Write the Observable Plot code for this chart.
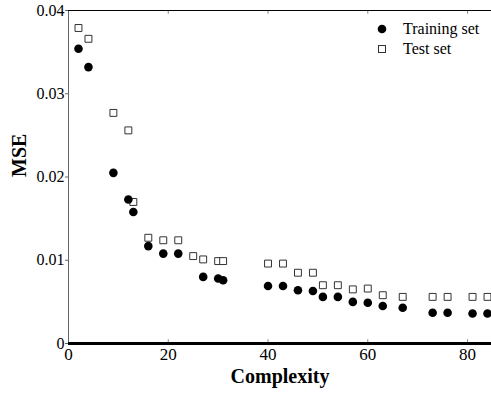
<!DOCTYPE html>
<html>
<head>
<meta charset="utf-8">
<script src="https://cdn.jsdelivr.net/npm/d3@7"></script>
<script src="https://cdn.jsdelivr.net/npm/@observablehq/plot@0.6"></script>
<style>
  html, body { margin: 0; padding: 0; background: #fff; }
  #wrap { position: relative; width: 491px; height: 394px; overflow: hidden; }
  #wrap svg text { font-family: "Liberation Serif", "Times New Roman", serif; }
  #legend { position: absolute; left: 374px; top: 19px; font-family: "Liberation Serif", "Times New Roman", serif; font-size: 16px; color: #000; }
  #legend .row { display: flex; align-items: center; height: 20px; }
  #legend svg { width: 16px; height: 16px; margin-right: 13px; }
</style>
</head>
<body>
<div id="wrap"><div id="legend"></div></div>
<script>
const trainX = [2, 4, 9, 12, 13, 16, 19, 22, 27, 30, 31, 40, 43, 46, 49, 51, 54, 57, 60, 63, 67, 73, 76, 81, 84];
const trainMSE = [0.0354, 0.0332, 0.0205, 0.0173, 0.0158, 0.0117, 0.0108, 0.0108, 0.0080, 0.0078, 0.0076, 0.0069, 0.0069, 0.0064, 0.0063, 0.0056, 0.0056, 0.0050, 0.0049, 0.0045, 0.0043, 0.0037, 0.0037, 0.0036, 0.0036];
const testX = [2, 4, 9, 12, 13, 16, 19, 22, 25, 27, 30, 31, 40, 43, 46, 49, 51, 54, 57, 60, 63, 67, 73, 76, 81, 84];
const testMSE = [0.0379, 0.0366, 0.0277, 0.0256, 0.0170, 0.0127, 0.0124, 0.0124, 0.0105, 0.0101, 0.0099, 0.0099, 0.0096, 0.0096, 0.0085, 0.0085, 0.0070, 0.0070, 0.0065, 0.0066, 0.0058, 0.0056, 0.0056, 0.0056, 0.0056, 0.0056];
const xTicks = [0, 20, 40, 60, 80];
const yTicks = [0, 0.01, 0.02, 0.03, 0.04];
const seriesNames = ["Training set", "Test set"];
const xLabel = "Complexity";
const yLabel = "MSE";

const train = trainX.map((x, i) => ({x, y: trainMSE[i]}));
const test = testX.map((x, i) => ({x, y: testMSE[i]}));

const serif = "'Liberation Serif', 'Times New Roman', serif";

const chart = Plot.plot({
  width: 491,
  height: 394,
  marginLeft: 68,
  marginRight: 0,
  marginTop: 10,
  marginBottom: 51,
  style: {fontFamily: serif, background: "#fff", color: "#000"},
  x: {domain: [0, 84.8]},
  y: {domain: [0, 0.04]},
  marks: [
    Plot.axisY({ticks: yTicks, tickFormat: d => d === 0 ? "0" : d3.format(".2f")(d), tickSize: 3, tickPadding: 1, fontSize: 16, fontFamily: serif, stroke: "#666", label: null}),
    Plot.axisX({ticks: xTicks, tickFormat: d => String(d), tickSize: 0, tickPadding: 4, fontSize: 17, fontFamily: serif, label: null}),
    Plot.ruleX(xTicks.filter(d => d > 0), {x: d => d, y1: 0, y2: 0.00045, stroke: "#888"}),
    Plot.ruleX(xTicks.filter(d => d > 0), {x: d => d, y1: 0.04, y2: 0.03955, stroke: "#888"}),
    Plot.ruleX([0], {stroke: "#666", strokeWidth: 1}),
    Plot.ruleY([0.04], {stroke: "#000", strokeWidth: 1.2}),
    Plot.ruleY([0], {stroke: "#000", strokeWidth: 3}),
    Plot.dot(test, {x: "x", y: "y", symbol: "square", r: 3.9, fill: "#fff", stroke: "#333", strokeWidth: 1}),
    Plot.dot(train, {x: "x", y: "y", symbol: "circle", r: 4.3, fill: "#000", stroke: "none"}),
    Plot.text([xLabel], {frameAnchor: "bottom", dy: 39, fontSize: 20, fontWeight: "bold", fontFamily: serif, fill: "#000"}),
    Plot.text([yLabel], {frameAnchor: "left", dx: -49, rotate: -90, fontSize: 20, fontWeight: "bold", fontFamily: serif, fill: "#000"})
  ]
});
const wrap = document.getElementById("wrap");
wrap.insertBefore(chart, wrap.firstChild);

const legend = document.getElementById("legend");
const symbols = [
  '<svg viewBox="-8 -8 16 16"><circle r="4.3" fill="#000"/></svg>',
  '<svg viewBox="-8 -8 16 16"><rect x="-3.5" y="-3.5" width="7" height="7" fill="#fff" stroke="#333" stroke-width="1"/></svg>'
];
seriesNames.forEach((name, i) => {
  const row = document.createElement("div");
  row.className = "row";
  row.innerHTML = symbols[i] + "<span>" + name + "</span>";
  legend.appendChild(row);
});
</script>
</body>
</html>
